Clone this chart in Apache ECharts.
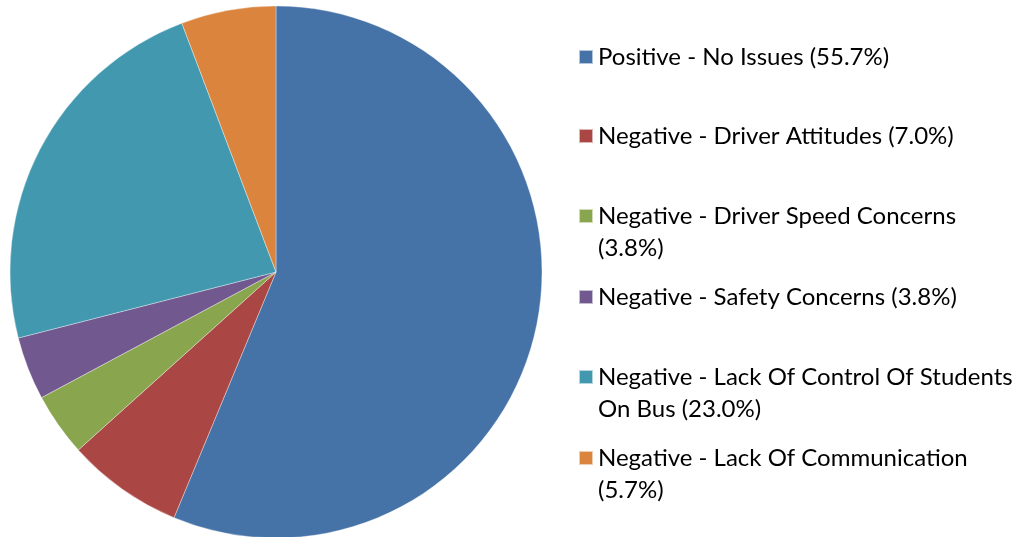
<!DOCTYPE html>
<html>
<head>
<meta charset="utf-8">
<script src="https://cdn.jsdelivr.net/npm/echarts@6/dist/echarts.min.js"></script>
<style>html,body{margin:0;padding:0;background:#fff}#c{width:1019px;height:537px}</style>
</head>
<body>
<div id="c"></div>
<script>
const categories = [
  'Positive - No Issues (55.7%)',
  'Negative - Driver Attitudes (7.0%)',
  'Negative - Driver Speed Concerns (3.8%)',
  'Negative - Safety Concerns (3.8%)',
  'Negative - Lack Of Control Of Students On Bus (23.0%)',
  'Negative - Lack Of Communication (5.7%)'
];
const legendLines = [
  'Positive - No Issues (55.7%)',
  'Negative - Driver Attitudes (7.0%)',
  'Negative - Driver Speed Concerns\n(3.8%)',
  'Negative - Safety Concerns (3.8%)',
  'Negative - Lack Of Control Of Students\nOn Bus (23.0%)',
  'Negative - Lack Of Communication\n(5.7%)'
];
const values = [55.7, 7.0, 3.8, 3.8, 23.0, 5.7];
const colors = ['#4572A7', '#AA4643', '#89A54E', '#71588F', '#4198AF', '#DB843D'];

const LH = 32, FS = 24;
const iconCenters = [57, 136, 216, 297, 377, 458];
const legends = categories.map((name, i) => {
  const two = legendLines[i].indexOf('\n') >= 0;
  const h = two ? 3 * LH : LH;
  return {
    data: [name],
    left: 578,
    top: iconCenters[i] - h / 2,
    orient: 'vertical',
    padding: 0,
    icon: 'rect',
    itemWidth: 14,
    itemHeight: 14,
    selectedMode: false,
    formatter: () => (two ? '\n' : '') + legendLines[i],
    textStyle: {
      fontFamily: 'Lato',
      fontSize: FS,
      lineHeight: LH,
      color: '#000'
    }
  };
});

const chart = echarts.init(document.getElementById('c'), null, {renderer: 'canvas'});
chart.setOption({
  animation: false,
  color: colors,
  legend: legends,
  series: [{
    type: 'pie',
    center: [276, 272],
    radius: 266,
    startAngle: 90,
    clockwise: true,
    label: {show: false},
    labelLine: {show: false},
    emphasis: {disabled: true},
    itemStyle: {borderColor: 'rgba(255,255,255,0.6)', borderWidth: 0.6},
    data: categories.map((n, i) => ({name: n, value: values[i]}))
  }]
});
</script>
</body>
</html>
